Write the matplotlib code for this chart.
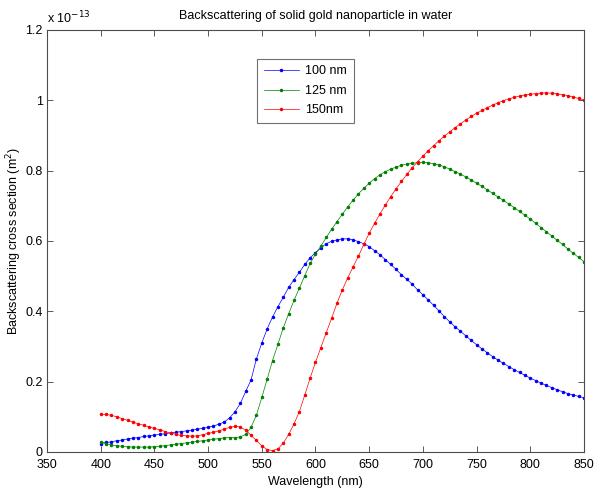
import numpy as np
import matplotlib
matplotlib.use("Agg")
import matplotlib.pyplot as plt
from matplotlib.ticker import FuncFormatter

plt.rcParams['font.family'] = ['Liberation Sans', 'DejaVu Sans']

# longitud de onda (nm), pasos de 5 nm
wavelength = np.arange(400, 851, 5)

# secciones de backscattering en unidades de 1e-13 m^2
bs_100 = [0.024, 0.027, 0.029, 0.032, 0.034, 0.037, 0.039, 0.041, 0.044, 0.046,
          0.048, 0.050, 0.052, 0.054, 0.056, 0.058, 0.060, 0.062, 0.065, 0.067,
          0.070, 0.074, 0.079, 0.085, 0.097, 0.114, 0.138, 0.172, 0.205, 0.265,
          0.310, 0.350, 0.384, 0.413, 0.440, 0.468, 0.490, 0.511, 0.533, 0.552,
          0.567, 0.580, 0.592, 0.599, 0.603, 0.606, 0.606, 0.603, 0.598, 0.592,
          0.584, 0.572, 0.561, 0.547, 0.533, 0.519, 0.504, 0.491, 0.477, 0.461,
          0.447, 0.432, 0.417, 0.401, 0.385, 0.370, 0.356, 0.343, 0.330, 0.317,
          0.305, 0.293, 0.282, 0.271, 0.261, 0.252, 0.243, 0.234, 0.226, 0.218,
          0.210, 0.203, 0.196, 0.189, 0.183, 0.177, 0.171, 0.166, 0.162, 0.158,
          0.154]

bs_125 = [0.028, 0.024, 0.020, 0.018, 0.016, 0.015, 0.014, 0.014, 0.014, 0.014,
          0.015, 0.016, 0.018, 0.020, 0.022, 0.024, 0.026, 0.028, 0.030, 0.032,
          0.034, 0.036, 0.038, 0.040, 0.041, 0.041, 0.043, 0.050, 0.070, 0.105,
          0.155, 0.207, 0.260, 0.306, 0.353, 0.393, 0.431, 0.466, 0.501, 0.536,
          0.563, 0.585, 0.610, 0.633, 0.655, 0.676, 0.697, 0.716, 0.734, 0.750,
          0.764, 0.777, 0.788, 0.797, 0.804, 0.810, 0.815, 0.819, 0.821, 0.822,
          0.823, 0.822, 0.820, 0.816, 0.811, 0.804, 0.797, 0.790, 0.782, 0.773,
          0.764, 0.755, 0.745, 0.735, 0.725, 0.715, 0.705, 0.695, 0.684, 0.673,
          0.662, 0.650, 0.638, 0.626, 0.614, 0.602, 0.590, 0.577, 0.565, 0.553,
          0.541]

bs_150 = [0.107, 0.107, 0.104, 0.100, 0.095, 0.090, 0.085, 0.080, 0.076, 0.071,
          0.067, 0.063, 0.058, 0.054, 0.050, 0.047, 0.046, 0.045, 0.046, 0.049,
          0.053, 0.056, 0.060, 0.065, 0.070, 0.073, 0.071, 0.062, 0.047, 0.033,
          0.017, 0.007, 0.004, 0.009, 0.025, 0.050, 0.080, 0.115, 0.162, 0.210,
          0.255, 0.297, 0.339, 0.380, 0.423, 0.461, 0.495, 0.526, 0.557, 0.590,
          0.622, 0.650, 0.677, 0.702, 0.726, 0.748, 0.769, 0.789, 0.808, 0.825,
          0.841, 0.857, 0.871, 0.885, 0.898, 0.910, 0.922, 0.933, 0.944, 0.954,
          0.963, 0.971, 0.979, 0.986, 0.993, 0.999, 1.004, 1.008, 1.012, 1.015,
          1.017, 1.019, 1.020, 1.021, 1.020, 1.018, 1.016, 1.013, 1.009, 1.005,
          1.001]

series = [(bs_100, (0, 0, 1), "100 nm"),
          (bs_125, (0, 0.5, 0), "125 nm"),
          (bs_150, (1, 0, 0), "150nm")]

fig = plt.figure(figsize=(5.95, 4.9), dpi=100)
ax = fig.add_axes([0.079, 0.0776, 0.9025, 0.8614])

for vals, col, lab in series:
    ax.plot(wavelength, np.array(vals) * 1e-13, color=col, lw=0.5,
            marker='.', markersize=3, label=lab)

ax.set_xlim(350, 850)
ax.set_ylim(0, 1.2e-13)
ax.set_xticks(np.arange(350, 851, 50))
ax.set_yticks(np.arange(0, 1.21e-13, 0.2e-13))
ax.yaxis.set_major_formatter(FuncFormatter(lambda v, p: "%g" % round(v * 1e13, 3)))
ax.tick_params(direction='in', top=True, right=True, length=4, width=0.6,
               labelsize=9, colors='0.25', labelcolor='black')
ax.tick_params(axis='x', pad=5)
ax.tick_params(axis='y', pad=3)
for s in ax.spines.values():
    s.set_color('0.3')
    s.set_linewidth(0.8)

ax.text(0.0, 1.008, r"x 10$^{-13}$", transform=ax.transAxes, fontsize=9,
        ha='left', va='bottom')

ax.set_title("Backscattering of solid gold nanoparticle in water", fontsize=9, pad=8)
ax.set_xlabel("Wavelength (nm)", fontsize=9)
ax.set_ylabel("Backscattering cross section (m$^2$)", fontsize=9)
ax.xaxis.set_label_coords(0.5, -0.058)
ax.yaxis.set_label_coords(-0.042, 0.5)

leg = ax.legend(loc='upper left', bbox_to_anchor=(0.391, 0.932), fontsize=9,
                frameon=True, fancybox=False, handlelength=2.8, borderpad=0.55,
                labelspacing=0.6, handletextpad=0.5, borderaxespad=0)
leg.get_frame().set_edgecolor('0.3')
leg.get_frame().set_linewidth(0.8)

fig.savefig("out.png", dpi=100)
